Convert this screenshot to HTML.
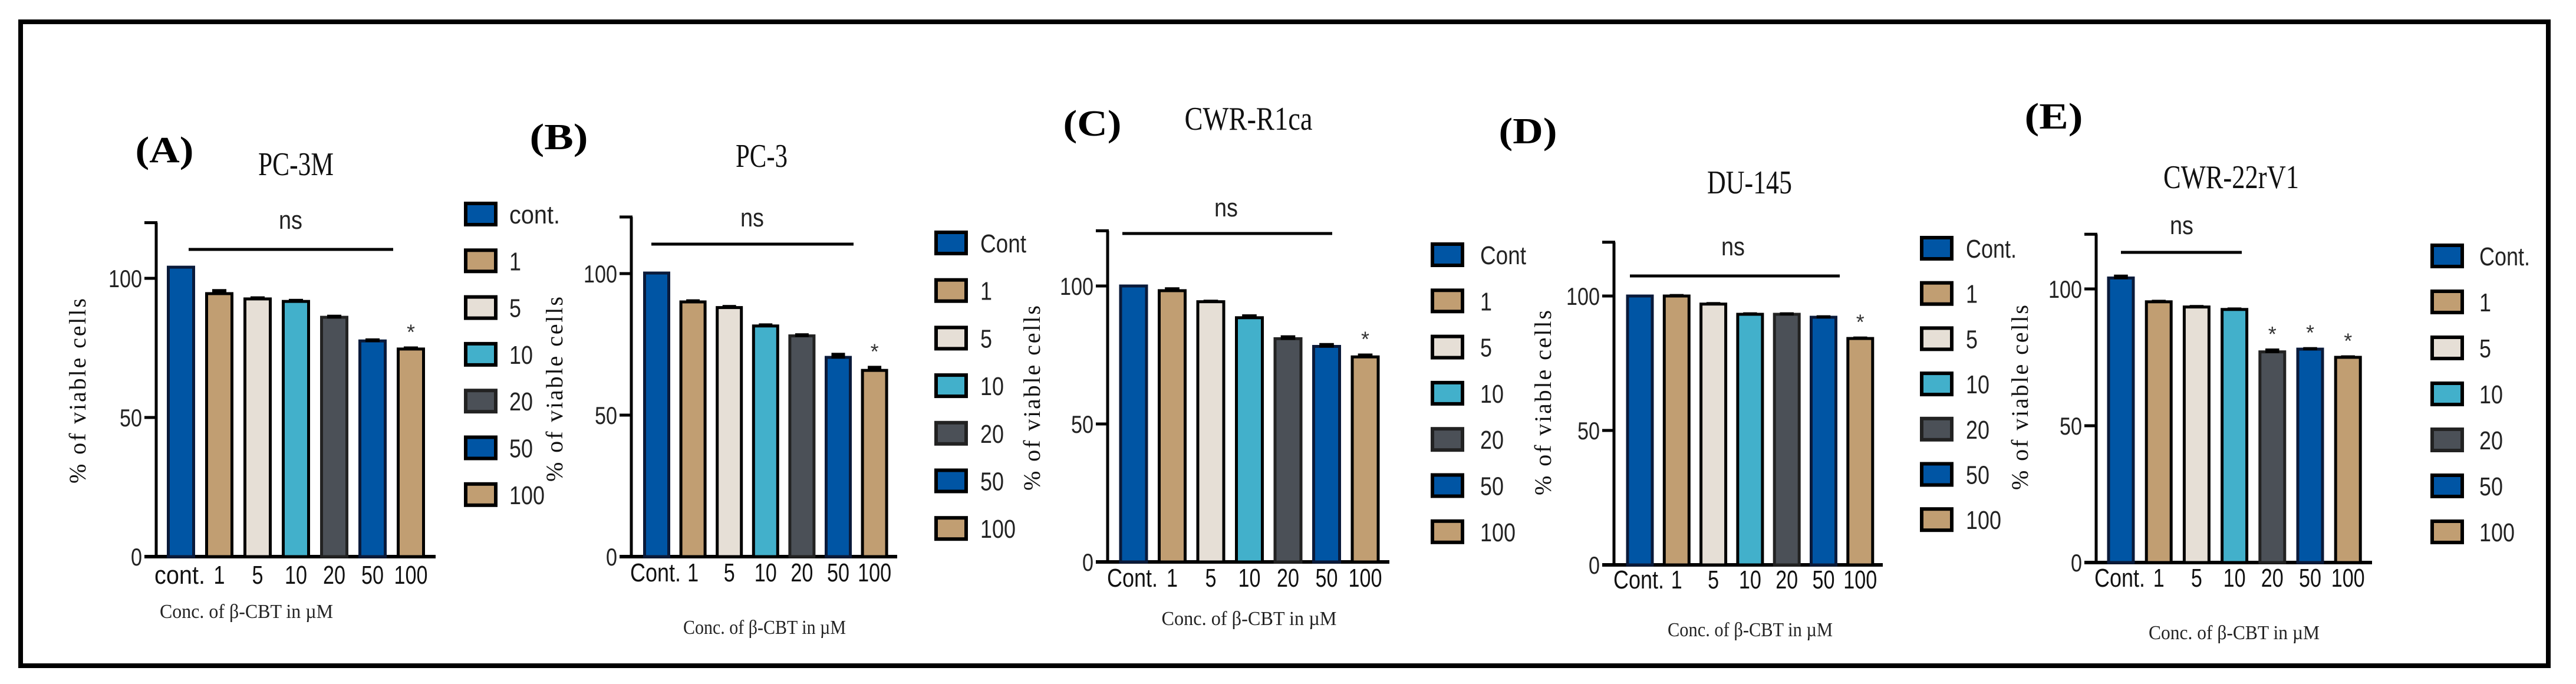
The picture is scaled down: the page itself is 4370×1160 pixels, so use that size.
<!DOCTYPE html>
<html><head><meta charset="utf-8"><title>Viability of prostate cancer cells treated with β-CBT</title>
<style>
html,body{margin:0;padding:0;background:#fff;}
svg{display:block;}
</style></head>
<body>
<svg id="fig" xmlns="http://www.w3.org/2000/svg" width="4370" height="1160" viewBox="0 0 4370 1160">
<rect x="35" y="37" width="4288" height="1092" fill="none" stroke="#000" stroke-width="8"/>
</svg>
<script>
// ---- data ----
const categoriesA = ["cont.", "1", "5", "10", "20", "50", "100"];
const categoriesOther = ["Cont.", "1", "5", "10", "20", "50", "100"];
const legendA = ["cont.", "1", "5", "10", "20", "50", "100"];
const legendB = ["Cont", "1", "5", "10", "20", "50", "100"];
const legendC = ["Cont", "1", "5", "10", "20", "50", "100"];
const legendD = ["Cont.", "1", "5", "10", "20", "50", "100"];
const legendE = ["Cont.", "1", "5", "10", "20", "50", "100"];
const valuesA = [104, 94.5, 92.6, 91.7, 86, 77.5, 74.6];
const valuesB = [100.2, 90, 88, 81.5, 78, 70.4, 65.8];
const valuesC = [100, 98.3, 94.3, 88.5, 80.9, 78.1, 74.3];
const valuesD = [100, 100, 97, 93.2, 93.2, 92.1, 84.2];
const valuesE = [104, 95.3, 93.4, 92.5, 77, 78, 75];
const errorsA = [0, 1.2, 0.5, 0.5, 0.5, 0.5, 0.5];
const errorsB = [0, 0.5, 0.5, 0.5, 0.5, 1.2, 1.2];
const errorsC = [0, 0.8, 0.3, 0.8, 0.8, 0.8, 0.8];
const errorsD = [0, 0.3, 0.3, 0.3, 0.3, 0.3, 0.3];
const errorsE = [0.8, 0.3, 0.3, 0.3, 0.8, 0.3, 0.3];
const starsA = [6];
const starsB = [6];
const starsC = [6];
const starsD = [6];
const starsE = [4, 5, 6];
const yTicks = [0, 50, 100];
const yMax = 120;
const panelLetters = ["(A)", "(B)", "(C)", "(D)", "(E)"];
const panelTitles = ["PC-3M", "PC-3", "CWR-R1ca", "DU-145", "CWR-22rV1"];

// ---- layout (not data) ----
const fills = ["#0055A4", "#C19E72", "#E6DFD6", "#42B0CB", "#4B5057", "#0055A4", "#C19E72"];
const strokes = ["#0A1A3A", "#000", "#000", "#000", "#222", "#0A1A3A", "#000"];
const panels = [
  {id:"a", cats:categoriesA, leg:legendA, vals:valuesA, errs:errorsA, stars:starsA,
   ax:265, base:944, unit:4.72, x0:307, pitch:65, bw:43, xEnd:739,
   ns:{x:493,y:388,ly:423,x1:320,x2:667}, legX:790, legTX:864, legY:363, legP:79.3,
   lab:{x:279,y:275,w:99}, tit:{x:502,y:297,w:128}, ytit:{x:131,y:663}, xlabY:990,
   conc:{x:418,y:1048,w:294}},
  {id:"b", cats:categoriesOther, leg:legendB, vals:valuesB, errs:errorsB, stars:starsB,
   ax:1071, base:944, unit:4.8, x0:1114, pitch:61.6, bw:41, xEnd:1522,
   ns:{x:1276,y:384,ly:414,x1:1105,x2:1448}, legX:1588, legTX:1663, legY:412, legP:80.7,
   lab:{x:948,y:253,w:99}, tit:{x:1292,y:283,w:88}, ytit:{x:940,y:660}, xlabY:986,
   conc:{x:1297,y:1075,w:276}},
  {id:"c", cats:categoriesOther, leg:legendC, vals:valuesC, errs:errorsC, stars:starsC,
   ax:1879, base:953, unit:4.68, x0:1923, pitch:65.5, bw:44, xEnd:2357,
   ns:{x:2080,y:367,ly:396,x1:1904,x2:2260}, legX:2430, legTX:2511, legY:432, legP:78.3,
   lab:{x:1853,y:230,w:99}, tit:{x:2118,y:220,w:217}, ytit:{x:1750,y:675}, xlabY:995,
   conc:{x:2119,y:1060,w:297}},
  {id:"d", cats:categoriesOther, leg:legendD, vals:valuesD, errs:errorsD, stars:starsD,
   ax:2738, base:958, unit:4.56, x0:2782, pitch:62.3, bw:42, xEnd:3194,
   ns:{x:2940,y:433,ly:468,x1:2765,x2:3121}, legX:3260, legTX:3335, legY:421, legP:76.7,
   lab:{x:2592,y:243,w:99}, tit:{x:2968,y:328,w:144}, ytit:{x:2617,y:683}, xlabY:998,
   conc:{x:2969,y:1079,w:280}},
  {id:"e", cats:categoriesOther, leg:legendE, vals:valuesE, errs:errorsE, stars:starsE,
   ax:3556, base:954, unit:4.64, x0:3598, pitch:64.2, bw:42, xEnd:4024,
   ns:{x:3701,y:397,ly:428,x1:3598,x2:3803}, legX:4126, legTX:4206, legY:434, legP:78,
   lab:{x:3484,y:218,w:99}, tit:{x:3785,y:319,w:230}, ytit:{x:3426,y:674}, xlabY:995,
   conc:{x:3790,y:1084,w:290}}
];

const NS = "http://www.w3.org/2000/svg";
const svg = document.getElementById("fig");
function mk(tag, attrs, parent) {
  const el = document.createElementNS(NS, tag);
  for (const k in attrs) el.setAttribute(k, attrs[k]);
  (parent || svg).appendChild(el);
  return el;
}
function txt(str, attrs, parent) {
  const t = mk("text", attrs, parent);
  t.textContent = str;
  return t;
}
const SANS = '"Liberation Sans", Arial, sans-serif';
const SERIF = '"Liberation Serif", "Times New Roman", serif';

panels.forEach((p, pi) => {
  const g = mk("g", {});
  
  
  const yScale = v => p.base - v * p.unit;
  const xScale = i => p.x0 + i * p.pitch;

  // panel letter
  const lab = txt(panelLetters[pi], {x:p.lab.x, y:p.lab.y, "text-anchor":"middle", "font-family":SERIF, "font-weight":"bold", "font-size":62, textLength:p.lab.w, lengthAdjust:"spacingAndGlyphs"}, g);
  
  
  // title
  const tt = txt(panelTitles[pi], {x:p.tit.x, y:p.tit.y, "text-anchor":"middle", "font-family":SERIF, "font-size":56, fill:"#111", textLength:p.tit.w, lengthAdjust:"spacingAndGlyphs"}, g);
  
  

  // y axis
  const yTop = yScale(yMax);
  const ya = mk("line", {x1:p.ax, y1:yTop, x2:p.ax, y2:p.base, stroke:"#000", "stroke-width":5}, g);
  
  
  const topTick = mk("line", {x1:p.ax - 20, y1:yTop, x2:p.ax + 2, y2:yTop, stroke:"#000", "stroke-width":5}, g);
  
  
  yTicks.forEach(v => {
    const yy = yScale(v);
    const tk = mk("line", {x1:p.ax - 20, y1:yy, x2:p.ax, y2:yy, stroke:"#000", "stroke-width":5}, g);
    
    
    const s = String(v);
    const tl = txt(s, {x:p.ax - 24, y:yy + 15, "text-anchor":"end", "font-family":SANS, "font-size":42, fill:"#222", textLength:s.length * 19, lengthAdjust:"spacingAndGlyphs"}, g);
    
    
  });
  // x axis
  const xa = mk("line", {x1:p.ax - 20, y1:p.base, x2:p.xEnd, y2:p.base, stroke:"#000", "stroke-width":6}, g);
  
  

  // y title
  const yt = txt("% of viable cells", {x:0, y:0, "text-anchor":"middle", "font-family":SERIF, "font-size":40, fill:"#111", textLength:314, lengthAdjust:"spacing", transform:`translate(${p.ytit.x + 14},${p.ytit.y}) rotate(-90)`}, g);
  
  

  // bars
  p.vals.forEach((v, i) => {
    const cx = xScale(i);
    const top = yScale(v);
    const b = mk("rect", {x:cx - p.bw / 2, y:top, width:p.bw, height:p.base - top, fill:fills[i], stroke:strokes[i], "stroke-width":5}, g);
    
    
    const e = p.errs[i];
    if (e > 0) {
      const ey = yScale(v + e);
      const eb = mk("rect", {x:cx - p.bw * 0.28, y:ey - 2, width:p.bw * 0.56, height:top - ey + 4, fill:"#000"}, g);
      
      
    }
    const s = p.cats[i];
    const xl = txt(s, {x:cx + (i === 0 ? -2 : 0), y:p.xlabY, "text-anchor":"middle", "font-family":SANS, "font-size":44, fill:"#111", textLength:(s.length === 5 ? 86 : s.length * 19), lengthAdjust:"spacingAndGlyphs"}, g);
    
    
  });
  // stars
  p.stars.forEach(i => {
    const cx = xScale(i);
    const top = yScale(p.vals[i] + p.errs[i]);
    const st = txt("*", {x:cx, y:top - 14, "text-anchor":"middle", "font-family":SANS, "font-size":36, fill:"#333"}, g);
    
    
  });
  // ns
  const nsT = txt("ns", {x:p.ns.x, y:p.ns.y, "text-anchor":"middle", "font-family":SANS, "font-size":44, fill:"#222", textLength:40, lengthAdjust:"spacingAndGlyphs"}, g);
  
  
  const nsL = mk("line", {x1:p.ns.x1, y1:p.ns.ly, x2:p.ns.x2, y2:p.ns.ly, stroke:"#000", "stroke-width":5}, g);
  
  

  // conc label
  const cl = txt("Conc. of β-CBT in µM", {x:p.conc.x, y:p.conc.y, "text-anchor":"middle", "font-family":SERIF, "font-size":34, fill:"#222", textLength:p.conc.w, lengthAdjust:"spacingAndGlyphs"}, g);
  
  

  // legend
  p.leg.forEach((s, i) => {
    const cy = p.legY + i * p.legP;
    const lg = mk("g", {}, g);
    
    
    mk("rect", {x:p.legX, y:cy - 18, width:p.legX ? 51 : 51, height:36, fill:fills[i], stroke:strokes[i] === "#222" ? "#222" : "#000", "stroke-width":6}, lg);
    txt(s, {x:p.legTX, y:cy + 16, "font-family":SANS, "font-size":44, fill:"#222", textLength:(s.length >= 4 ? (s.length === 5 ? 86 : 78) : s.length * 20), lengthAdjust:"spacingAndGlyphs"}, lg);
  });
});
</script>
</body></html>
